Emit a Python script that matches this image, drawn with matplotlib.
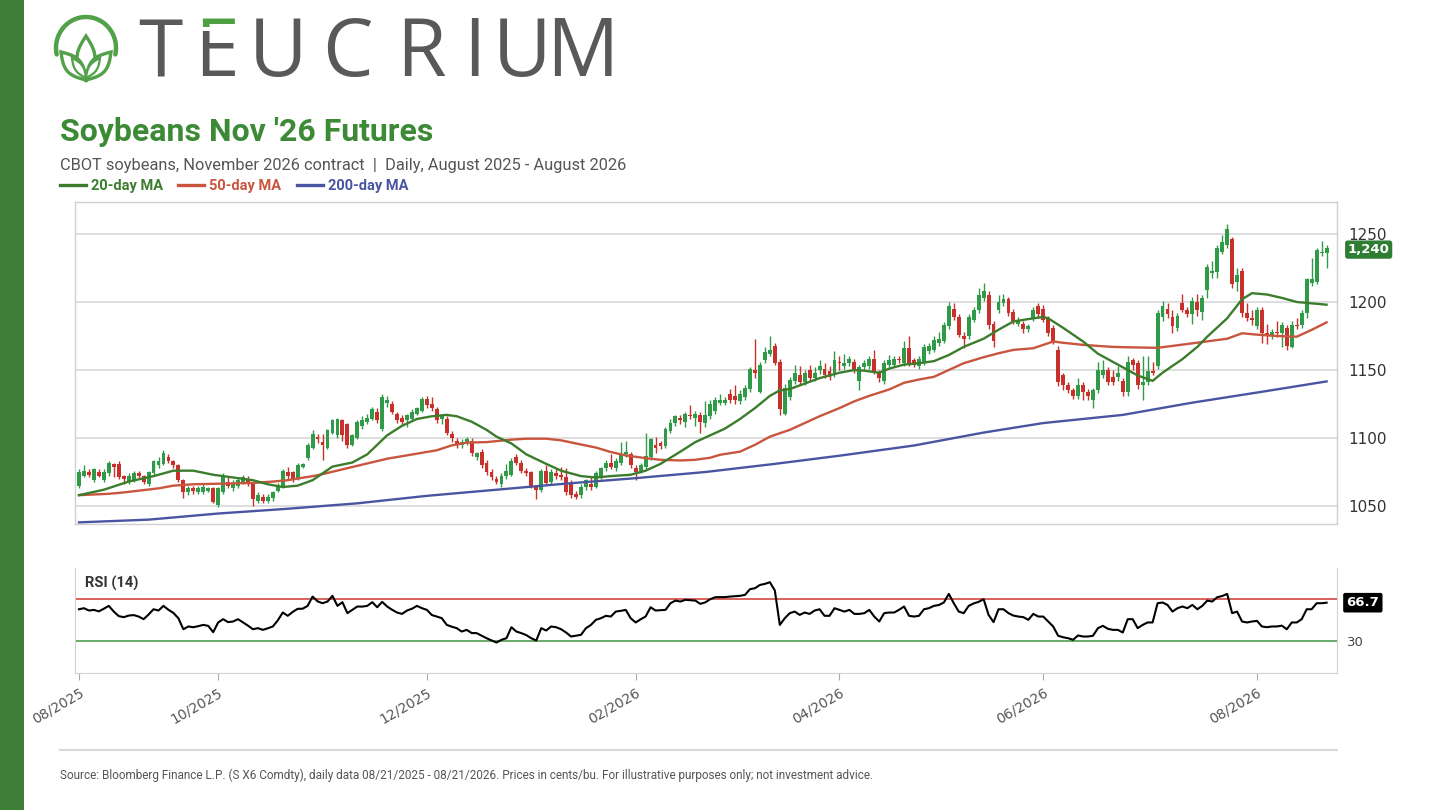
import numpy as np
import pandas as pd
import matplotlib
matplotlib.use('Agg')
import matplotlib.pyplot as plt
from matplotlib import patches, transforms

# daily OHLC, cents/bu
opens = [1065, 1072, 1075, 1069, 1075, 1069, 1074, 1081, 1081, 1072, 1068, 1069, 1074, 1072, 1066, 1074, 1080, 1081, 1086, 1083,
         1080, 1069, 1060, 1063, 1060, 1060, 1061, 1063, 1051, 1060, 1068, 1063, 1065, 1068, 1070, 1066, 1054, 1057, 1054, 1056,
         1061, 1064, 1075, 1075, 1070, 1079, 1085, 1093, 1101, 1097, 1093, 1104, 1102, 1113, 1110, 1095, 1100, 1109, 1112, 1114,
         1119, 1107, 1126, 1125, 1118, 1115, 1113, 1114, 1118, 1120, 1129, 1125, 1121, 1114, 1114, 1103, 1098, 1095, 1097, 1098,
         1086, 1090, 1082, 1075, 1070, 1066, 1072, 1073, 1086, 1082, 1076, 1075, 1064, 1062, 1076, 1068, 1074, 1073, 1071, 1067,
         1059, 1058, 1064, 1066, 1064, 1072, 1078, 1082, 1078, 1082, 1088, 1088, 1078, 1076, 1079, 1086, 1095, 1096, 1094, 1105,
         1111, 1115, 1112, 1117, 1115, 1117, 1111, 1116, 1120, 1126, 1126, 1132, 1131, 1127, 1130, 1136, 1150, 1134, 1157, 1162,
         1168, 1156, 1118, 1130, 1142, 1146, 1141, 1150, 1144, 1150, 1151, 1149, 1147, 1156, 1153, 1155, 1156, 1142, 1152, 1153,
         1158, 1148, 1142, 1154, 1154, 1158, 1155, 1166, 1157, 1153, 1156, 1164, 1165, 1170, 1171, 1182, 1195, 1189, 1175, 1175,
         1187, 1194, 1203, 1205, 1184, 1194, 1199, 1202, 1193, 1184, 1184, 1180, 1188, 1197, 1195, 1188, 1181, 1165, 1146, 1139,
         1135, 1131, 1139, 1134, 1128, 1135, 1146, 1150, 1145, 1145, 1142, 1134, 1157, 1155, 1139, 1141, 1149, 1153, 1189, 1195,
         1189, 1181, 1199, 1194, 1191, 1200, 1193, 1209, 1221, 1222, 1237, 1242, 1246, 1215, 1223, 1192, 1188, 1182, 1194, 1177,
         1175, 1178, 1177, 1181, 1167, 1183, 1183, 1192, 1214, 1215, 1236, 1236]
highs = [1077, 1080, 1077, 1078, 1077, 1077, 1083, 1082, 1083, 1073, 1074, 1076, 1076, 1073, 1076, 1084, 1086, 1091, 1088, 1084,
         1081, 1070, 1065, 1065, 1065, 1066, 1064, 1064, 1064, 1074, 1072, 1069, 1071, 1073, 1072, 1068, 1060, 1059, 1059, 1061,
         1067, 1077, 1079, 1076, 1082, 1082, 1096, 1106, 1103, 1103, 1107, 1114, 1115, 1114, 1111, 1103, 1113, 1116, 1118, 1123,
         1122, 1132, 1131, 1127, 1119, 1117, 1118, 1121, 1123, 1130, 1131, 1130, 1123, 1118, 1116, 1105, 1100, 1099, 1101, 1100,
         1090, 1092, 1084, 1077, 1072, 1074, 1081, 1085, 1088, 1084, 1078, 1076, 1065, 1077, 1080, 1077, 1077, 1079, 1078, 1069,
         1061, 1066, 1070, 1071, 1076, 1079, 1084, 1088, 1085, 1097, 1098, 1090, 1080, 1082, 1104, 1100, 1101, 1098, 1108, 1114,
         1117, 1117, 1119, 1124, 1120, 1119, 1127, 1128, 1130, 1132, 1130, 1136, 1139, 1135, 1139, 1152, 1173, 1156, 1167, 1175,
         1170, 1158, 1140, 1145, 1154, 1153, 1150, 1154, 1152, 1157, 1155, 1153, 1164, 1160, 1162, 1160, 1158, 1154, 1157, 1160,
         1165, 1150, 1157, 1161, 1160, 1160, 1171, 1175, 1159, 1160, 1169, 1170, 1175, 1178, 1185, 1200, 1199, 1191, 1178, 1191,
         1196, 1210, 1214, 1208, 1186, 1205, 1206, 1204, 1195, 1189, 1186, 1184, 1196, 1199, 1198, 1190, 1183, 1168, 1148, 1141,
         1137, 1144, 1141, 1136, 1137, 1156, 1157, 1152, 1150, 1153, 1144, 1160, 1159, 1157, 1160, 1160, 1156, 1194, 1201, 1199,
         1194, 1192, 1206, 1196, 1204, 1206, 1205, 1228, 1230, 1242, 1249, 1257, 1248, 1225, 1225, 1199, 1194, 1196, 1196, 1184,
         1180, 1186, 1185, 1183, 1186, 1188, 1194, 1218, 1232, 1240, 1245, 1242]
lows = [1063, 1071, 1071, 1068, 1071, 1068, 1072, 1071, 1070, 1066, 1066, 1068, 1070, 1066, 1065, 1073, 1078, 1080, 1082, 1078,
        1068, 1056, 1058, 1059, 1059, 1059, 1060, 1052, 1049, 1059, 1063, 1061, 1063, 1066, 1065, 1050, 1052, 1052, 1052, 1054,
        1060, 1063, 1069, 1068, 1069, 1078, 1084, 1092, 1096, 1084, 1092, 1103, 1100, 1098, 1093, 1094, 1099, 1107, 1110, 1113,
        1111, 1105, 1123, 1118, 1111, 1110, 1108, 1113, 1117, 1119, 1122, 1120, 1111, 1110, 1102, 1097, 1093, 1093, 1095, 1087,
        1084, 1078, 1073, 1069, 1066, 1064, 1070, 1072, 1080, 1074, 1072, 1063, 1055, 1060, 1066, 1066, 1070, 1069, 1058, 1056,
        1055, 1056, 1062, 1062, 1063, 1070, 1076, 1077, 1076, 1080, 1086, 1078, 1069, 1074, 1077, 1084, 1089, 1092, 1093, 1104,
        1109, 1110, 1108, 1114, 1109, 1104, 1108, 1114, 1118, 1124, 1124, 1126, 1125, 1125, 1128, 1134, 1144, 1133, 1155, 1160,
        1154, 1117, 1117, 1128, 1140, 1140, 1139, 1142, 1142, 1147, 1144, 1143, 1145, 1150, 1151, 1153, 1148, 1135, 1150, 1151,
        1147, 1141, 1140, 1152, 1152, 1155, 1153, 1153, 1152, 1151, 1154, 1162, 1163, 1168, 1170, 1180, 1187, 1174, 1166, 1173,
        1185, 1192, 1201, 1180, 1167, 1192, 1197, 1190, 1184, 1182, 1177, 1178, 1186, 1189, 1185, 1175, 1169, 1138, 1135, 1133,
        1129, 1129, 1128, 1128, 1122, 1133, 1144, 1139, 1139, 1142, 1131, 1131, 1150, 1136, 1128, 1139, 1146, 1151, 1186, 1188,
        1177, 1179, 1193, 1189, 1184, 1190, 1187, 1203, 1218, 1218, 1235, 1240, 1210, 1208, 1189, 1186, 1183, 1180, 1170, 1169,
        1173, 1174, 1167, 1165, 1166, 1180, 1181, 1188, 1212, 1213, 1234, 1225]
closes = [1075, 1076, 1073, 1077, 1072, 1075, 1082, 1079, 1071, 1070, 1072, 1074, 1072, 1068, 1075, 1083, 1083, 1089, 1083, 1080,
          1069, 1060, 1063, 1061, 1063, 1064, 1063, 1053, 1063, 1072, 1065, 1066, 1069, 1071, 1066, 1055, 1058, 1054, 1057, 1060,
          1065, 1076, 1072, 1069, 1080, 1081, 1095, 1103, 1099, 1095, 1106, 1113, 1114, 1102, 1095, 1102, 1112, 1113, 1115, 1121,
          1113, 1130, 1128, 1119, 1113, 1112, 1117, 1119, 1122, 1129, 1124, 1122, 1113, 1117, 1104, 1100, 1095, 1097, 1099, 1089,
          1089, 1080, 1075, 1071, 1068, 1072, 1076, 1083, 1082, 1076, 1074, 1065, 1062, 1076, 1067, 1075, 1072, 1071, 1060, 1058,
          1057, 1064, 1069, 1064, 1074, 1078, 1082, 1079, 1083, 1088, 1090, 1080, 1075, 1080, 1087, 1099, 1093, 1094, 1107, 1111,
          1116, 1113, 1118, 1116, 1118, 1112, 1117, 1125, 1128, 1128, 1128, 1128, 1128, 1132, 1137, 1151, 1148, 1154, 1163, 1165,
          1155, 1121, 1137, 1143, 1148, 1141, 1148, 1144, 1148, 1153, 1146, 1145, 1157, 1155, 1155, 1158, 1150, 1152, 1155, 1158,
          1149, 1144, 1155, 1157, 1158, 1157, 1166, 1155, 1154, 1158, 1167, 1168, 1172, 1173, 1183, 1197, 1189, 1176, 1173, 1189,
          1194, 1205, 1208, 1183, 1171, 1200, 1202, 1192, 1186, 1187, 1180, 1182, 1194, 1191, 1187, 1177, 1171, 1141, 1139, 1135,
          1131, 1139, 1134, 1131, 1135, 1150, 1150, 1141, 1141, 1148, 1134, 1156, 1154, 1139, 1141, 1149, 1148, 1192, 1197, 1191,
          1182, 1190, 1194, 1191, 1201, 1194, 1203, 1226, 1223, 1240, 1244, 1254, 1213, 1220, 1192, 1188, 1187, 1194, 1177, 1175,
          1178, 1177, 1183, 1168, 1183, 1182, 1192, 1217, 1217, 1238, 1237, 1240]

rsi = [60.5, 61.5, 59.3, 59.9, 58.5, 61.0, 63.7, 58.3, 54.0, 53.0, 54.5, 55.0, 53.6, 51.1, 55.5, 60.5, 59.3, 63.7, 60.0, 57.0,
       52.0, 41.6, 44.2, 43.5, 44.5, 45.7, 44.8, 38.8, 48.0, 51.1, 48.3, 48.9, 51.1, 48.0, 45.0, 41.6, 42.6, 41.0, 42.5, 44.2,
       50.0, 57.4, 54.3, 58.0, 60.9, 61.0, 63.7, 72.5, 68.0, 66.2, 67.8, 73.2, 63.7, 67.2, 56.8, 60.0, 63.1, 63.0, 63.7, 67.2,
       62.4, 67.5, 63.1, 60.0, 57.4, 56.1, 59.3, 61.0, 63.7, 61.5, 59.9, 55.0, 53.6, 52.0, 45.7, 44.0, 42.6, 39.4, 41.0, 38.0,
       37.9, 35.5, 33.1, 31.0, 29.0, 31.6, 33.1, 43.5, 39.4, 37.9, 36.0, 33.1, 30.9, 42.6, 40.4, 44.2, 43.5, 41.6, 38.5, 34.7,
       35.5, 36.3, 42.6, 45.7, 50.5, 52.0, 54.3, 53.6, 58.3, 59.0, 59.9, 52.0, 48.0, 51.0, 53.6, 62.4, 59.3, 59.6, 59.9, 66.2,
       68.7, 67.8, 69.4, 69.0, 68.7, 65.6, 67.0, 70.0, 71.9, 71.9, 72.0, 72.5, 72.8, 73.2, 74.1, 79.5, 80.4, 83.5, 84.5, 86.1,
       78.2, 45.7, 52.0, 56.8, 58.3, 55.2, 57.4, 56.1, 59.3, 60.5, 54.3, 54.3, 61.5, 59.9, 58.3, 59.9, 56.1, 56.1, 56.8, 59.9,
       53.6, 48.9, 56.8, 57.4, 57.4, 60.0, 63.1, 54.3, 53.6, 54.3, 60.5, 61.5, 63.7, 64.5, 66.9, 75.0, 66.2, 58.3, 56.8, 63.7,
       66.0, 67.5, 70.0, 55.2, 48.3, 60.5, 60.5, 56.8, 54.5, 53.6, 53.0, 50.5, 56.1, 53.6, 53.6, 48.9, 44.2, 35.4, 34.0, 33.1,
       31.6, 35.7, 34.7, 34.7, 35.4, 42.6, 44.8, 42.0, 41.0, 41.0, 38.5, 51.1, 51.1, 42.6, 45.7, 48.0, 48.0, 66.2, 66.9, 64.6,
       58.3, 61.5, 63.1, 61.5, 64.6, 60.5, 63.7, 68.7, 67.8, 71.9, 73.0, 75.0, 56.8, 58.3, 48.9, 48.0, 48.9, 49.5, 44.2, 43.5,
       44.2, 44.2, 45.0, 41.6, 48.0, 48.0, 51.1, 60.5, 60.5, 66.2, 66.2, 66.7]

# moving averages, read at selected trading-day positions
ma20_day = [0, 5, 10, 15, 19, 23, 27, 31, 35, 38, 41, 44, 47, 51, 55, 58, 62, 65, 68, 71, 74, 76, 79, 82, 84, 87, 90, 94, 97,
            101, 104, 107, 111, 114, 117, 121, 124, 127, 130, 133, 136, 139, 141, 143, 146, 149, 153, 156, 158, 161, 163, 166,
            169, 172, 175, 178, 182, 185, 188, 192, 194, 195, 198, 202, 205, 208, 211, 213, 216, 218, 222, 225, 227, 231, 234,
            236, 239, 242, 245, 248, 251]
ma20 = [1058, 1062, 1068, 1072, 1076, 1076, 1073, 1071, 1069, 1066, 1064, 1065, 1069, 1079, 1082, 1088, 1102, 1109, 1114, 1116,
        1117, 1116, 1112, 1106, 1101, 1096, 1088, 1081, 1076, 1072, 1071, 1072, 1073, 1076, 1081, 1090, 1097, 1102, 1107, 1114,
        1122, 1131, 1135, 1136, 1140, 1144, 1148, 1150, 1149.5, 1148, 1151, 1154, 1155, 1156.5, 1161, 1167, 1173, 1179.6,
        1185.7, 1188, 1189, 1188, 1181, 1171, 1162, 1156, 1150, 1146, 1142, 1148, 1158, 1167, 1174.5, 1188, 1202, 1206.5,
        1205.5, 1203, 1200, 1199, 1198]
ma50_day = [0, 6, 9, 16, 19, 23, 29, 35, 39, 42, 48, 55, 62, 68, 72, 75, 78, 82, 87, 90, 94, 97, 100, 104, 107, 110, 114, 117,
            121, 124, 127, 129, 133, 136, 139, 143, 146, 149, 153, 156, 159, 163, 166, 169, 172, 175, 178, 182, 185, 188, 192,
            195, 196, 198, 202, 205, 208, 211, 217, 224, 231, 234, 237, 241, 245, 248, 251]
ma50 = [1058, 1059, 1060, 1063, 1065, 1066, 1066.5, 1067, 1068, 1069, 1072.6, 1078.7, 1084.8, 1088.5, 1091, 1094.6, 1096.6,
        1097, 1098.8, 1099.5, 1099.5, 1098.3, 1096, 1093, 1089.7, 1087.2, 1085.2, 1084, 1083.5, 1084, 1085.5, 1087.7, 1090,
        1095, 1101, 1106, 1111, 1116, 1122, 1127, 1131, 1135.7, 1140.6, 1143, 1145, 1150, 1155, 1159.4, 1162.3, 1164.8, 1166,
        1169.7, 1171, 1170, 1168.5, 1167.7, 1167, 1166.7, 1166.3, 1169.6, 1173, 1177, 1176, 1175, 1174.5, 1179.5, 1185]
ma200_day = [0, 14, 28, 42, 56, 70, 84, 98, 112, 126, 140, 153, 168, 182, 194, 210, 224, 238, 251]
ma200 = [1038, 1040, 1044.5, 1048, 1052, 1057.5, 1062, 1066.5, 1070.5, 1075, 1081, 1087, 1094.5, 1104, 1111, 1117, 1126,
         1134, 1141.6]

holidays = ['2025-09-01', '2025-11-27', '2025-12-25', '2026-01-01', '2026-01-19', '2026-02-16',
            '2026-04-03', '2026-05-25', '2026-06-19', '2026-07-03']
tick_months = ['2025-10-01', '2025-12-01', '2026-02-01', '2026-04-01', '2026-06-01', '2026-08-01']

dates = pd.bdate_range('2025-08-21', '2026-08-21')
dates = dates[~dates.isin(pd.to_datetime(holidays))]

#------------------------------------------------------------------------------
W, H = 1441, 810
GREEN_UP = '#2f9a47'
RED_DN = '#c8302b'
C20, C50, C200 = '#3b7d2d', '#c9553e', '#4a55a2'
GRAY = '#555555'
GRID = '#dedede'
NARROW = ['Liberation Sans Narrow', 'Roboto', 'DejaVu Sans']

fig = plt.figure(figsize=(W / 100, H / 100), dpi=100)
fig.patch.set_facecolor('white')

# pixel-space layer for header / footer
deco = fig.add_axes([0, 0, 1, 1])
deco.set_xlim(0, W)
deco.set_ylim(H, 0)
deco.axis('off')

deco.add_patch(patches.Rectangle((0, 0), 24, H, color='#3d7d35', lw=0))

# logo mark
LOGO = '#52a047'
t = np.radians(np.linspace(-12, 192, 80))
deco.plot(86 + 30 * np.cos(t), 48 - 31 * np.sin(t), color=LOGO, lw=3.2, solid_capstyle='round')

def leaf(p0, p1, w):
    p0, p1 = np.array(p0, float), np.array(p1, float)
    s = np.linspace(0, 1, 30)
    d = p1 - p0
    n = np.array([-d[1], d[0]]) / np.hypot(*d)
    side1 = p0 + np.outer(s, d) + np.outer(w * np.sin(np.pi * s), n)
    side2 = p0 + np.outer(s[::-1], d) - np.outer(w * np.sin(np.pi * s[::-1]), n)
    return np.vstack([side1, side2])

for p1, w in [((86, 36), 9), ((61, 52), 8), ((111, 52), 8)]:
    deco.add_patch(patches.Polygon(leaf((86, 80), p1, w), closed=True, fc='white', ec=LOGO, lw=2.4))
for p1, w in [((72, 58), 4), ((100, 58), 4)]:
    deco.add_patch(patches.Polygon(leaf((86, 78), p1, w), closed=True, fc='white', ec=LOGO, lw=1.6))

# wordmark, letter by letter for the wide tracking
WORD_FONT = dict(fontsize=58, family=['Open Sans', 'DejaVu Sans'])
word_x = [160, 217, 278, 347, 421, 474, 522, 582]
for ch, xc in zip('TEUCRIUM', word_x):
    if ch == 'E':
        continue
    deco.text(xc, 76, ch, ha='center', va='baseline', color='#58595b', **WORD_FONT)
# the E: green top bar, grey lower part
e_grey = deco.text(word_x[1], 76, 'E', ha='center', va='baseline', color='#58595b', **WORD_FONT)
e_grey.set_clip_path(patches.Rectangle((150, 31), 120, 60, transform=deco.transData))
e_grey.set_clip_on(True)
e_green = deco.text(word_x[1], 76, 'E', ha='center', va='baseline', color='#4fa043', **WORD_FONT)
e_green.set_clip_path(patches.Rectangle((150, 5), 120, 22, transform=deco.transData))
e_green.set_clip_on(True)

deco.text(60, 141, "Soybeans Nov '26 Futures", ha='left', va='baseline', fontsize=23,
          fontweight='bold', color='#3c8a36', family=NARROW)
deco.text(60, 170, 'CBOT soybeans, November 2026 contract  |  Daily, August 2025 - August 2026',
          ha='left', va='baseline', fontsize=11.8, color=GRAY, family=['Roboto', 'DejaVu Sans'])

legend_items = [('20-day MA', C20, 60), ('50-day MA', C50, 178), ('200-day MA', C200, 297)]
for lab, col, x0 in legend_items:
    deco.plot([x0, x0 + 26], [185, 185], color=col, lw=2.4)
    deco.text(x0 + 31, 190, lab, ha='left', va='baseline', fontsize=10.5, fontweight='bold',
              color=col, family=NARROW)

deco.plot([60, 1337], [750, 750], color='#d9d9d9', lw=1.5)
deco.text(60, 779, 'Source: Bloomberg Finance L.P. (S X6 Comdty), daily data 08/21/2025 - 08/21/2026. '
          'Prices in cents/bu. For illustrative purposes only; not investment advice.',
          ha='left', va='baseline', fontsize=8.5, color=GRAY, family=NARROW)

# price panel
x = np.arange(len(closes))
o, h, l, c = (np.array(v, float) for v in (opens, highs, lows, closes))
up = c >= o
cols = np.where(up, GREEN_UP, RED_DN)

ax = fig.add_axes([75 / W, 1 - 524 / H, (1337 - 75) / W, (524 - 202) / H])
ax.set_xlim(-0.8, 253.1)
ax.set_ylim(1036.8, 1273.5)
ax.set_yticks([1050, 1100, 1150, 1200, 1250])
ax.set_yticklabels(['1050', '1100', '1150', '1200', '1250'])
ax.grid(axis='y', color=GRID, lw=1.4)
ax.set_axisbelow(True)
ax.yaxis.tick_right()
ax.tick_params(axis='y', length=0, pad=8, labelsize=11, labelcolor='#333333')
ax.set_xticks([])
for sp in ax.spines.values():
    sp.set_color('#d0d0d0')
    sp.set_linewidth(1.0)

ax.vlines(x, l, h, colors=cols, lw=1.0, zorder=2)
ax.bar(x, np.maximum(np.abs(c - o), 0.7), bottom=np.minimum(o, c), width=0.78, color=cols, lw=0, zorder=3)

ax.plot(ma200_day, ma200, color=C200, lw=1.7, zorder=4)
ax.plot(ma50_day, ma50, color=C50, lw=1.7, zorder=4)
ax.plot(ma20_day, ma20, color=C20, lw=1.7, zorder=5)

tr = transforms.blended_transform_factory(ax.transAxes, ax.transData)
ax.text(1.0085, closes[-1] - 1.5, f'{closes[-1]:,}', transform=tr, ha='left', va='center', fontsize=9.5,
        fontweight='bold', color='white', zorder=6,
        bbox=dict(boxstyle='round,pad=0.2,rounding_size=0.2', fc='#2e7d32', ec='none'))

# RSI panel
rx = fig.add_axes([75 / W, 1 - 673.2 / H, (1337 - 75) / W, (673.2 - 567.5) / H])
rx.set_xlim(-0.8, 253.1)
rx.set_ylim(0, 100)
rx.axhline(70, color='#d8625c', lw=1.4, zorder=1)
rx.axhline(30, color='#6aaa6a', lw=1.4, zorder=1)
rx.plot(x, rsi, color='black', lw=1.5, zorder=3)
rx.spines['top'].set_visible(False)
for side in ('left', 'bottom', 'right'):
    rx.spines[side].set_color('#d0d0d0')
rx.yaxis.tick_right()
rx.set_yticks([30])
rx.set_yticklabels(['30'])
rx.tick_params(axis='y', length=0, pad=7, labelsize=9.5, labelcolor='#444444')
trr = transforms.blended_transform_factory(rx.transAxes, rx.transData)
rx.text(0.008, 85, 'RSI (14)', transform=trr, ha='left', va='center', fontsize=10.5,
        fontweight='bold', color='#333333', family=NARROW)
rx.text(1.0075, rsi[-1], f'{rsi[-1]:.1f}', transform=trr, ha='left', va='center', fontsize=9.5,
        fontweight='bold', color='white', zorder=6,
        bbox=dict(boxstyle='round,pad=0.25,rounding_size=0.15', fc='black', ec='none'))

tick_pos = [0] + [int(np.searchsorted(dates, pd.Timestamp(m))) for m in tick_months]
rx.set_xticks(tick_pos)
rx.set_xticklabels([dates[i].strftime('%m/%Y') for i in tick_pos], rotation=30, ha='right',
                   rotation_mode='anchor', fontsize=10, color=GRAY)
rx.tick_params(axis='x', length=5, color='#aaaaaa', pad=4)

fig.savefig('out.png', dpi=100, facecolor='white')
